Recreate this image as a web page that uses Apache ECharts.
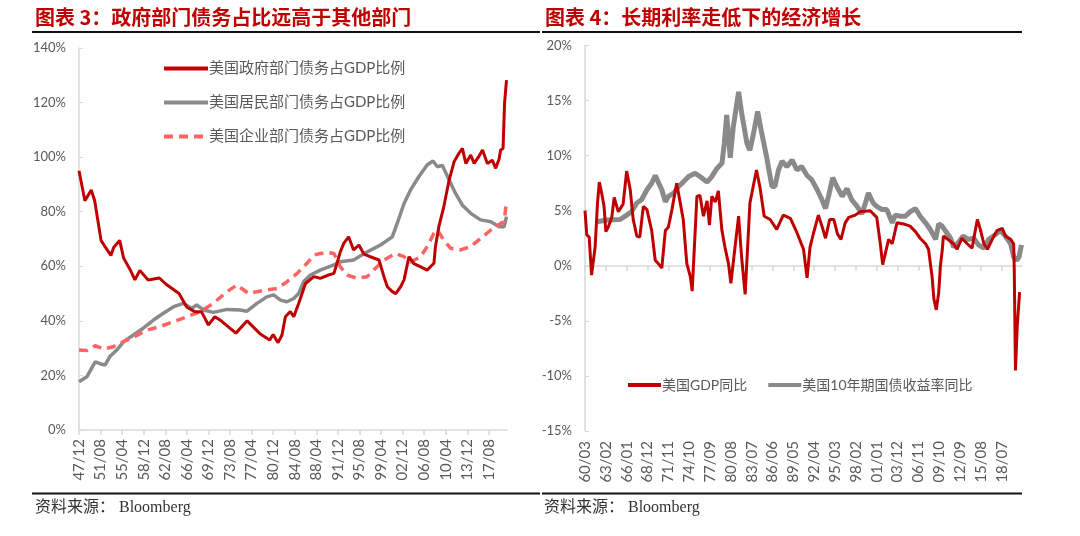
<!DOCTYPE html>
<html>
<head>
<meta charset="utf-8">
<script src="https://cdn.jsdelivr.net/npm/echarts@6/dist/echarts.min.js"></script>
<style>
html,body{margin:0;padding:0;background:#fff;}
#chart{width:1080px;height:536px;}
</style>
</head>
<body>
<div id="chart"></div>
<script>
// ---------- Left chart: US debt / GDP by sector (%) ----------
const leftStart = '1947-12';
const leftEnd = '2020-09';
const govDebt = [['1947-12',95],['1948-12',84],['1950-01',88],['1950-08',84],['1951-09',69.5],['1952-04',67.5],['1953-05',64],['1953-11',67],['1954-11',69.5],['1955-07',63],['1956-09',58.5],['1957-06',55],['1958-04',58.5],['1959-09',55],['1961-08',55.7],['1962-09',53.5],['1964-12',50],['1966-04',45],['1967-09',43.3],['1968-10',43.3],['1969-12',38.5],['1971-01',41.5],['1972-02',40],['1974-08',35.5],['1976-07',40],['1978-09',35.3],['1980-05',33],['1980-12',35],['1981-10',32],['1982-06',34.8],['1983-01',41.5],['1983-11',43.4],['1984-06',41.5],['1985-04',46.4],['1985-11',50],['1986-06',53.7],['1987-11',56.2],['1988-12',55.6],['1990-05',56.8],['1991-04',57.4],['1991-10',61],['1992-05',65.3],['1992-12',68.4],['1993-10',70.8],['1994-08',66],['1995-07',67.8],['1996-05',64.5],['1997-06',63.5],['1998-12',62.3],['1999-10',56.2],['2000-05',52.5],['2001-03',50.7],['2001-10',50],['2002-08',52.5],['2003-03',55],['2004-01',63.5],['2004-11',61],['2006-01',59.8],['2007-02',58.6],['2008-04',61.1],['2008-07',67.2],['2009-02',74.5],['2009-12',81.8],['2010-11',91.6],['2011-09',98.3],['2012-07',101.4],['2013-02',103.2],['2013-09',97.7],['2014-07',100.8],['2015-02',97.7],['2015-12',100.4],['2016-07',102.6],['2017-05',97.7],['2018-03',98.9],['2018-10',95.9],['2019-05',99.4],['2019-08',102.6],['2020-01',103.2],['2020-04',119.7],['2020-08',128.2]];
const houseDebt = [['1947-12',17.7],['1949-04',19.5],['1950-09',25],['1951-07',24.3],['1952-05',23.8],['1953-03',26.9],['1954-05',29.3],['1955-07',32.4],['1957-03',34.8],['1958-11',37.3],['1960-08',40.3],['1962-04',42.8],['1964-01',45.2],['1965-09',46.4],['1967-02',44.6],['1967-12',45.8],['1969-02',44],['1970-10',43.1],['1973-02',44.2],['1975-05',44],['1976-06',43.5],['1978-03',46.4],['1979-11',48.8],['1981-01',49.5],['1982-03',47.6],['1983-04',47],['1984-06',48.2],['1985-04',50],['1986-02',54.3],['1987-04',56.8],['1988-12',58.6],['1991-04',60.5],['1992-05',61.7],['1994-08',62.3],['1996-12',65.3],['1999-03',67.8],['2001-03',70.8],['2002-01',75.7],['2003-03',83],['2004-04',87.9],['2005-09',92.8],['2007-02',97.1],['2008-02',98.6],['2008-11',96.5],['2009-09',97],['2010-11',91.6],['2011-12',86.7],['2013-02',82.4],['2014-07',79.4],['2016-03',77],['2017-12',76.3],['2019-05',74.5],['2020-03',74.5],['2020-08',78.2]];
const corpDebt = [['1947-12',29.3],['1949-04',29.1],['1950-09',30.9],['1952-02',29.7],['1953-10',30.5],['1955-07',32.4],['1957-03',34],['1959-06',36.6],['1961-09',37.9],['1964-01',39.7],['1966-04',41.5],['1968-07',43.4],['1970-10',46.4],['1973-02',50.7],['1974-10',53.1],['1975-12',51.3],['1976-10',50],['1978-03',50.7],['1979-11',51.3],['1981-08',51.9],['1983-04',54.3],['1985-01',57.4],['1986-09',61.1],['1987-11',64.1],['1988-12',64.7],['1990-05',65],['1991-04',64.7],['1992-05',59.8],['1993-07',56.8],['1995-03',55.6],['1996-12',56.2],['1998-01',58.6],['1999-10',62.3],['2001-10',64.7],['2003-03',63.5],['2004-04',61.5],['2006-01',63.5],['2007-02',67.2],['2008-04',72.1],['2008-11',73.3],['2009-12',69.6],['2011-02',66.6],['2012-10',66],['2014-07',67.2],['2016-03',70.2],['2017-12',73.3],['2019-08',75.7],['2020-03',76.3],['2020-08',83.7]];
const leftNames = ['美国政府部门债务占GDP比例','美国居民部门债务占GDP比例','美国企业部门债务占GDP比例'];

// ---------- Right chart: GDP yoy vs 10Y yield (%) ----------
const rightStart = '1960-03';
const rightEnd = '2021-05';
const gdpYoy = [['1960-03',5],['1960-06',2.8],['1960-10',2.6],['1961-02',-0.85],['1961-08',1.7],['1961-12',5.7],['1962-03',7.6],['1962-07',6.6],['1962-11',5.4],['1963-02',3.1],['1963-06',3.5],['1963-12',4.4],['1964-04',6.2],['1964-11',4.9],['1965-07',5.6],['1966-01',8.6],['1966-07',6.9],['1966-12',4.2],['1967-06',2.7],['1967-11',2.6],['1968-05',5.4],['1968-11',5.1],['1969-07',3.2],['1970-01',0.5],['1970-06',0.2],['1970-12',-0.2],['1971-06',3.2],['1971-11',3.5],['1972-05',5.1],['1973-01',7.5],['1973-07',5.7],['1973-12',4.2],['1974-06',0.2],['1974-12',-1],['1975-03',-2.3],['1975-11',6.3],['1976-04',6.4],['1976-10',4.5],['1977-04',5.9],['1977-08',3.7],['1977-12',6.3],['1978-06',5.8],['1978-11',6.8],['1979-05',3.2],['1979-10',1.7],['1980-04',0.2],['1980-08',-1.6],['1981-03',1.7],['1981-09',4.5],['1982-02',0.8],['1982-08',-2.6],['1983-04',5.7],['1984-03',8.7],['1984-09',7.1],['1985-04',4.5],['1986-02',4.2],['1987-01',3.3],['1987-12',4.6],['1988-12',4.3],['1989-11',3.0],['1990-10',1.5],['1991-04',-1.1],['1991-09',1.7],['1992-03',3.0],['1992-11',4.6],['1993-05',3.6],['1993-11',2.5],['1994-06',4.2],['1995-01',4.2],['1995-07',2.9],['1996-01',2.4],['1996-08',3.9],['1997-02',4.4],['1998-01',4.6],['1998-09',4.9],['2000-02',5.0],['2001-01',4.4],['2001-07',2.0],['2001-11',0.1],['2002-09',2.4],['2003-03',2.0],['2003-11',3.9],['2004-10',3.8],['2005-09',3.6],['2006-06',3.1],['2007-02',2.5],['2007-11',2.0],['2008-04',1.5],['2008-10',-1.0],['2009-01',-3.0],['2009-05',-4.0],['2009-09',-2.5],['2009-12',0],['2010-03',1.4],['2010-05',2.7],['2011-10',2.0],['2012-04',1.5],['2012-12',2.5],['2013-09',2.0],['2014-05',1.6],['2015-02',4.2],['2015-07',3.3],['2016-01',2.0],['2016-07',1.5],['2017-03',2.4],['2017-11',3.2],['2018-08',3.4],['2019-01',2.7],['2019-10',2.4],['2020-03',2.0],['2020-04',-0.4],['2020-06',-9.5],['2020-09',-5.5],['2021-01',-2.4]];
const yield10y = [['1961-11',4.0],['1963-03',4.15],['1965-02',4.2],['1966-01',4.6],['1966-09',4.9],['1967-06',5.7],['1968-02',6.0],['1968-11',6.9],['1969-07',7.5],['1970-01',8.2],['1970-06',7.6],['1970-12',6.9],['1971-06',5.8],['1971-11',6.3],['1972-08',6.6],['1973-04',7.2],['1973-12',7.6],['1974-09',8.1],['1975-08',8.4],['1976-04',8.1],['1977-04',7.6],['1977-12',8.1],['1978-08',8.8],['1979-05',9.3],['1979-09',11.1],['1980-01',13.7],['1980-07',9.8],['1980-12',12.6],['1981-09',15.8],['1982-02',13.9],['1982-11',11.1],['1983-04',10.5],['1983-10',12.0],['1984-05',14.0],['1984-12',12.0],['1985-08',9.9],['1986-05',7.2],['1986-10',7.2],['1987-04',8.7],['1987-10',9.5],['1988-06',9.0],['1989-03',9.6],['1989-11',8.7],['1990-07',9.0],['1991-04',8.2],['1991-12',7.8],['1992-09',6.9],['1993-05',6.0],['1993-11',5.2],['1994-04',6.3],['1994-11',8.0],['1995-06',7.2],['1996-03',6.3],['1996-11',7.0],['1997-07',6.0],['1998-04',5.4],['1998-12',4.7],['1999-06',5.7],['1999-11',6.6],['2000-07',5.7],['2001-01',5.4],['2001-10',5.1],['2002-06',5.1],['2003-03',3.9],['2003-08',4.6],['2004-05',4.5],['2005-01',4.5],['2005-09',4.9],['2006-06',5.2],['2007-02',4.5],['2007-11',3.9],['2008-07',3.3],['2009-04',2.4],['2009-09',3.8],['2010-03',3.6],['2010-08',3.2],['2011-05',2.5],['2011-10',1.7],['2012-06',2.1],['2013-02',2.7],['2013-11',2.4],['2014-08',2.5],['2015-04',1.9],['2016-01',1.6],['2016-09',2.4],['2017-05',2.7],['2018-05',3.2],['2019-01',2.7],['2019-10',2.0],['2020-03',0.8],['2020-08',0.5],['2020-12',0.8],['2021-04',1.9]];
const rightNames = ['美国GDP同比','美国10年期国债收益率同比'];

const leftTicks = [0,20,40,60,80,100,120,140];
const rightTicks = [-15,-10,-5,0,5,10,15,20];

// ---------- helpers ----------
function ym(s){const p=s.split('-').map(Number);return p[0]*12+p[1]-1;}
function monthCats(a,b){const out=[];for(let k=ym(a);k<=ym(b);k++){const y=Math.floor(k/12),m=k%12+1;out.push(y+'-'+String(m).padStart(2,'0'));}return out;}
function toPts(arr,start){const s=ym(start);return arr.map(d=>[ym(d[0])-s,d[1]]);}
function fmtYM(v){return v.slice(2,4)+'/'+v.slice(5,7);}

const leftCats = monthCats(leftStart,leftEnd);
const rightCats = monthCats(rightStart,rightEnd);

const RED='#c00000', GRAY='#8a8a8a', PINK='#ff6464', AX='#d9d9d9', TXT='#595959';
const LAT = "Lato, 'Noto Sans CJK SC', sans-serif";

const chart = echarts.init(document.getElementById('chart'));
chart.setOption({
  animation:false,
  backgroundColor:'#fff',
  grid:[
    {left:79, top:48, width:428, height:382},
    {left:585, top:45.5, width:437, height:385.5}
  ],
  xAxis:[
    {gridIndex:0,type:'category',data:leftCats,boundaryGap:false,
     axisLine:{lineStyle:{color:AX,width:1.5}},
     axisTick:{interval:43,length:5,lineStyle:{color:AX,width:1.5}},
     axisLabel:{interval:43,rotate:90,margin:9,color:TXT,fontSize:15,fontFamily:LAT,formatter:fmtYM},
     splitLine:{show:false}},
    {gridIndex:1,type:'category',data:rightCats,boundaryGap:false,position:'bottom',
     axisLine:{onZero:true,lineStyle:{color:AX,width:1.5}},
     axisTick:{interval:34,length:5,lineStyle:{color:AX,width:1.5}},
     axisLabel:{show:false},splitLine:{show:false}},
    {gridIndex:1,type:'category',data:rightCats,boundaryGap:false,position:'bottom',
     axisLine:{show:false,onZero:false},axisTick:{show:false},
     axisLabel:{interval:34,rotate:90,margin:10,color:TXT,fontSize:15,fontFamily:LAT,formatter:fmtYM},
     splitLine:{show:false}}
  ],
  yAxis:[
    {gridIndex:0,type:'value',min:leftTicks[0],max:leftTicks[leftTicks.length-1],interval:20,
     axisLine:{show:true,lineStyle:{color:AX,width:1.5}},axisTick:{show:true,inside:true,length:4,lineStyle:{color:AX}},
     splitLine:{show:false},
     axisLabel:{margin:13,color:TXT,fontSize:13,fontFamily:LAT,formatter:'{value}%'}},
    {gridIndex:1,type:'value',min:rightTicks[0],max:rightTicks[rightTicks.length-1],interval:5,
     axisLine:{show:true,onZero:false,lineStyle:{color:AX,width:1.5}},axisTick:{show:true,inside:true,length:4,lineStyle:{color:AX}},
     splitLine:{show:false},
     axisLabel:{margin:13,color:TXT,fontSize:13,fontFamily:LAT,formatter:'{value}%'}}
  ],
  legend:[
    {data:leftNames,orient:'vertical',left:157,top:56,itemWidth:44,itemHeight:12,itemGap:19,
     itemStyle:{opacity:0},lineStyle:{width:4},
     textStyle:{color:TXT,fontSize:15,fontFamily:LAT,padding:[0,0,0,-4]}},
    {data:rightNames,orient:'horizontal',left:621,top:373,itemWidth:33,itemHeight:12,itemGap:19,
     itemStyle:{opacity:0},lineStyle:{width:4},
     textStyle:{color:TXT,fontSize:14,fontFamily:LAT,padding:[0,0,0,-4]}}
  ],
  series:[
    {name:leftNames[1],type:'line',xAxisIndex:0,yAxisIndex:0,data:toPts(houseDebt,leftStart),showSymbol:false,symbol:'none',
     lineStyle:{color:GRAY,width:3.5},itemStyle:{color:GRAY},z:2},
    {name:leftNames[2],type:'line',xAxisIndex:0,yAxisIndex:0,data:toPts(corpDebt,leftStart),showSymbol:false,symbol:'none',
     lineStyle:{color:PINK,width:3.5,type:[9,6]},itemStyle:{color:PINK},z:3},
    {name:leftNames[0],type:'line',xAxisIndex:0,yAxisIndex:0,data:toPts(govDebt,leftStart),showSymbol:false,symbol:'none',
     lineStyle:{color:RED,width:3},itemStyle:{color:RED},z:4},
    {name:rightNames[1],type:'line',xAxisIndex:1,yAxisIndex:1,data:toPts(yield10y,rightStart),showSymbol:false,symbol:'none',
     lineStyle:{color:GRAY,width:5},itemStyle:{color:GRAY},z:2},
    {name:rightNames[0],type:'line',xAxisIndex:1,yAxisIndex:1,data:toPts(gdpYoy,rightStart),showSymbol:false,symbol:'none',
     lineStyle:{color:RED,width:3},itemStyle:{color:RED},z:3}
  ],
  graphic:[
    {type:'text',left:35,top:7,style:{text:'图表 3：政府部门债务占比远高于其他部门',fill:RED,font:"bold 20px 'Noto Sans CJK SC', sans-serif"}},
    {type:'text',left:545,top:7,style:{text:'图表 4：长期利率走低下的经济增长',fill:RED,font:"bold 20px 'Noto Sans CJK SC', sans-serif"}},
    {type:'rect',shape:{x:32,y:31,width:508,height:2},style:{fill:'#111'}},
    {type:'rect',shape:{x:542,y:31,width:480,height:2},style:{fill:'#111'}},
    {type:'rect',shape:{x:32,y:492.5,width:508,height:2},style:{fill:'#111'}},
    {type:'rect',shape:{x:542,y:492.5,width:480,height:2},style:{fill:'#111'}},
    {type:'text',left:35,top:500,style:{text:'资料来源： Bloomberg',fill:'#333',font:"16px 'Liberation Serif', 'Noto Sans CJK SC', serif"}},
    {type:'text',left:544,top:500,style:{text:'资料来源： Bloomberg',fill:'#333',font:"16px 'Liberation Serif', 'Noto Sans CJK SC', serif"}}
  ]
});
</script>
</body>
</html>
